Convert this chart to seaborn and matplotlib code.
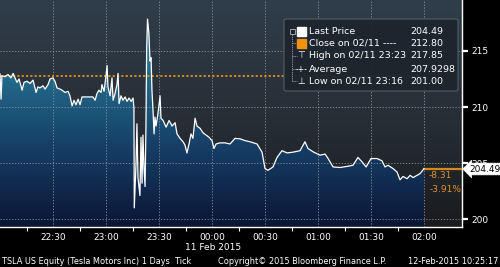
import numpy as np
import pandas as pd
import matplotlib
matplotlib.use("Agg")
import matplotlib.pyplot as plt
import seaborn as sns
from matplotlib.colors import LinearSegmentedColormap
from matplotlib.patches import FancyBboxPatch, Rectangle

# ---------------- data ----------------
# minutes after 22:00 on 11 Feb 2015
minutes = [0, 0.6, 1.1, 2.8, 4.5, 6.2, 7.4, 8.5, 9.6, 10.8, 12.5, 13.6, 15.3, 17.0, 18.7,
           20.4, 21.5, 22.6, 24.3, 25.5, 27.2, 28.3, 30.0, 31.1, 32.3, 34.0, 35.1, 36.8,
           38.5, 39.6, 40.8, 41.9, 43.0, 44.2, 45.3, 46.4, 48.7, 50.9, 52.6, 53.8, 54.9,
           56.0, 57.2, 57.7, 58.9, 60.0, 60.6, 61.1, 62.3, 63.4, 64.0, 65.1, 66.2, 66.8,
           67.4, 68.5, 69.6, 70.8, 71.9, 73.0, 74.2, 75.3, 75.8, 76.0, 77.0, 77.5, 78.1,
           79.2, 79.8, 80.4, 80.9, 81.5, 82.1, 82.6, 83.0, 83.5, 84.3, 84.9, 85.5, 86.0,
           86.6, 87.2, 87.7, 88.3, 89.4, 90.6, 91.1, 92.3, 94.0, 95.7, 97.4, 99.1, 100.2,
           101.9, 103.6, 104.7, 105.8, 107.0, 108.1, 109.2, 110.4, 111.5, 113.2, 114.9,
           116.6, 118.3, 120.0, 121.1, 122.3, 124.5, 127.4, 130.2, 133.0, 135.8, 138.7,
           141.5, 145.5, 148.3, 150.0, 151.7, 154.5, 156.8, 159.6, 162.5, 165.8, 169.8,
           172.6, 174.3, 177.2, 181.1, 184.0, 185.7, 188.5, 192.5, 196.4, 199.8, 202.6,
           204.9, 207.2, 210.0, 213.4, 216.2, 217.9, 219.6, 222.5, 224.7, 226.4, 228.1,
           230.4, 232.1, 233.8, 236.0, 237.7, 240.0]
prices = [212.95, 210.7, 212.8, 212.7, 212.9, 212.6, 213.0, 212.6, 212.2, 212.5, 211.5,
          212.2, 212.3, 212.1, 212.4, 211.3, 211.8, 211.7, 211.9, 211.6, 212.0, 212.5,
          212.6, 212.3, 211.7, 211.6, 211.5, 211.3, 211.4, 211.0, 210.1, 210.6, 210.2,
          210.7, 210.2, 210.9, 210.9, 210.9, 210.9, 210.6, 211.2, 211.5, 211.3, 212.0,
          211.4, 212.8, 213.7, 211.8, 211.0, 212.6, 210.6, 211.2, 212.0, 213.0, 210.3,
          211.0, 210.6, 210.9, 210.5, 210.8, 210.5, 210.8, 209.9, 201.0, 205.0, 208.5,
          203.7, 202.1, 207.3, 203.2, 207.5, 204.6, 202.9, 208.2, 215.2, 217.85, 216.5,
          214.1, 214.4, 211.5, 209.7, 207.6, 209.1, 208.3, 209.4, 211.0, 209.0, 208.8,
          208.2, 208.8, 208.3, 208.6, 207.6, 207.2, 206.9, 206.6, 205.9, 206.7, 207.6,
          207.2, 209.0, 208.3, 208.1, 207.7, 207.5, 207.3, 207.0, 206.3, 206.7, 206.8,
          206.8, 206.7, 207.2, 207.16, 207.0, 206.9, 206.7, 205.97, 204.5, 204.35, 204.65,
          205.5, 206.1, 205.9, 205.97, 206.1, 206.9, 206.3, 206.0, 205.7, 205.8, 205.4,
          204.65, 204.6, 204.7, 204.8, 205.5, 205.1, 204.65, 205.4, 205.4, 205.2, 204.65,
          204.8, 204.5, 204.2, 203.5, 203.8, 203.6, 203.9, 203.7, 203.9, 204.05, 204.49]

close_prev = 212.80
last_price = 204.49
change_labels = ["-8.31", "-3.91%"]

xtick_minutes = [30, 60, 90, 120, 150, 180, 210, 240]
xtick_labels = ["22:30", "23:00", "23:30", "00:00", "00:30", "01:00", "01:30", "02:00"]
ytick_values = [200, 205, 210, 215]
date_label = "11 Feb 2015"

legend_labels = ["Last Price", "Close on 02/11 ----", "High on 02/11 23:23",
                 "Average", "Low on 02/11 23:16"]
legend_values = ["204.49", "212.80", "217.85", "207.9298", "201.00"]

footer_left = "TSLA US Equity (Tesla Motors Inc) 1 Days  Tick"
footer_mid = "Copyright\u00a9 2015 Bloomberg Finance L.P."
footer_right = "12-Feb-2015 10:25:17"

df = pd.DataFrame({"minute": minutes, "price": prices})

# ---------------- figure ----------------
W, H = 500, 267
fig = plt.figure(figsize=(5, 2.67), dpi=100, facecolor="black")


def fx(px):
    return px / W


def fy(py):
    return 1 - py / H


ax = fig.add_axes([0, fy(227), fx(461.5), 227 / H])
XMAX = 261.2
YMIN, YMAX = 199.29, 219.55
ax.set_xlim(0, XMAX)
ax.set_ylim(YMIN, YMAX)
ax.set_facecolor("#1a1c1f")

# background gradient
bg_cmap = LinearSegmentedColormap.from_list(
    "bg", [(0, "#1a1b1d"), (0.45, "#262d35"), (1, "#303e4b")])
grad = np.linspace(0, 1, 256).reshape(-1, 1)
ax.imshow(grad, extent=[0, XMAX, YMIN, YMAX], origin="lower", aspect="auto",
          cmap=bg_cmap, zorder=0)

# area gradient under the price line
area_cmap = LinearSegmentedColormap.from_list(
    "area", [(0, "#0b1535"), (0.35, "#163e66"), (0.65, "#22698a"), (1, "#3486a3")])
poly = ax.fill_between(df["minute"], df["price"], YMIN, color="none", lw=0, zorder=1)
img = ax.imshow(grad, extent=[0, XMAX, YMIN, YMAX], origin="lower", aspect="auto",
                cmap=area_cmap, zorder=1)
img.set_clip_path(poly.get_paths()[0], transform=ax.transData)

# grid
for m in xtick_minutes:
    ax.axvline(m, color="#8c939b", lw=0.6, ls=(0, (1.5, 2.0)), zorder=2)
for v in ytick_values:
    ax.axhline(v, color="#8c939b", lw=0.6, ls=(0, (1.5, 2.0)), zorder=2)

# price line
sns.lineplot(data=df, x="minute", y="price", ax=ax, color="white", lw=0.9,
             zorder=4, legend=False)

# previous close dotted line and change marker
ax.plot([0, 240], [close_prev, close_prev], color="#e8900a", lw=1.3,
        ls=(0, (1.2, 1.2)), zorder=3)
ax.plot([240, XMAX], [last_price, last_price], color="#d4891f", lw=1.6, zorder=3)

# axes styling
for s in ["top", "left"]:
    ax.spines[s].set_visible(False)
ax.spines["bottom"].set_color("white")
ax.spines["right"].set_color("white")
ax.spines["bottom"].set_linewidth(1.0)
ax.spines["right"].set_linewidth(1.0)
ax.set_xlabel("")
ax.set_ylabel("")
ax.set_xticks(xtick_minutes)
ax.set_xticklabels(xtick_labels)
ax.set_xticks([15 + 30 * k for k in range(8)], minor=True)
ax.tick_params(axis="x", which="major", length=0, pad=4, labelsize=6.5, colors="white")
ax.tick_params(axis="x", which="minor", length=3, width=0.8, colors="white", direction="out")
ax.yaxis.tick_right()
ax.set_yticks(ytick_values)
ax.set_yticklabels([str(v) for v in ytick_values])
ax.tick_params(axis="y", which="major", length=4, width=1.6, pad=3, labelsize=6.5,
               colors="white", direction="out")
ax.grid(False)

# change labels
fig.text(fx(429), fy(175), change_labels[0], color="#e0922e", fontsize=6.5,
         va="center", ha="left")
fig.text(fx(430), fy(189), change_labels[1], color="#e0922e", fontsize=6.5,
         va="center", ha="left")

# last price tag
fig.text(fx(469), fy(169), f"{last_price:.2f}", color="black", fontsize=6.5,
         va="center", ha="left", zorder=10,
         bbox=dict(boxstyle="larrow,pad=0.15", fc="white", ec="white", lw=0.5))

# date label
fig.text(fx(213), fy(247), date_label, color="white", fontsize=6.5, ha="center",
         va="center")

# legend box
box = FancyBboxPatch((fx(284), fy(91)), fx(458) - fx(284), fy(19) - fy(91),
                     boxstyle="round,pad=0.0,rounding_size=0.006",
                     transform=fig.transFigure, fc="#1d252d", ec="#56606a", lw=0.8,
                     alpha=0.95, zorder=5)
fig.add_artist(box)
rows_y = [31.7, 43.3, 55.7, 69, 81]
# tree line
fig.add_artist(plt.Line2D([fx(292), fx(292)], [fy(34), fy(81)], transform=fig.transFigure,
                          color="#9aa0a6", lw=0.6, ls=(0, (1.5, 1.0)), zorder=6))
fig.add_artist(Rectangle((fx(289.5), fy(34)), fx(5), 5 / H, transform=fig.transFigure,
                         fc="none", ec="#b0b5ba", lw=0.6, zorder=6))
for ry in rows_y[1:]:
    fig.add_artist(plt.Line2D([fx(292), fx(297)], [fy(ry), fy(ry)],
                              transform=fig.transFigure, color="#9aa0a6", lw=0.6,
                              ls=(0, (1.5, 1.0)), zorder=6))
fig.add_artist(Rectangle((fx(297), fy(36)), fx(9), 9 / H, transform=fig.transFigure,
                         fc="white", ec="white", zorder=6))
fig.add_artist(Rectangle((fx(297), fy(47.5)), fx(9), 9 / H, transform=fig.transFigure,
                         fc="#f0920f", ec="#f0920f", zorder=6))
fig.text(fx(301.5), fy(55.7), "\u22a4", color="white", fontsize=6.5, ha="center",
         va="center", zorder=7)
fig.text(fx(301.5), fy(69), "-+-", color="white", fontsize=5.5, ha="center",
         va="center", zorder=7)
fig.text(fx(301.5), fy(81), "\u22a5", color="white", fontsize=6.5, ha="center",
         va="center", zorder=7)
for ry, lab, val in zip(rows_y, legend_labels, legend_values):
    fig.text(fx(309), fy(ry), lab, color="white", fontsize=6.8, ha="left",
             va="center", zorder=7)
    fig.text(fx(410), fy(ry), val, color="white", fontsize=6.8, ha="left",
             va="center", zorder=7)

# footer
fig.text(fx(2), fy(261), footer_left, color="white", fontsize=5.9, ha="left", va="center")
fig.text(fx(218), fy(261), footer_mid, color="white", fontsize=5.9, ha="left", va="center")
fig.text(fx(498), fy(261), footer_right, color="white", fontsize=5.9, ha="right",
         va="center")

fig.savefig("out.png", dpi=100, facecolor="black")
